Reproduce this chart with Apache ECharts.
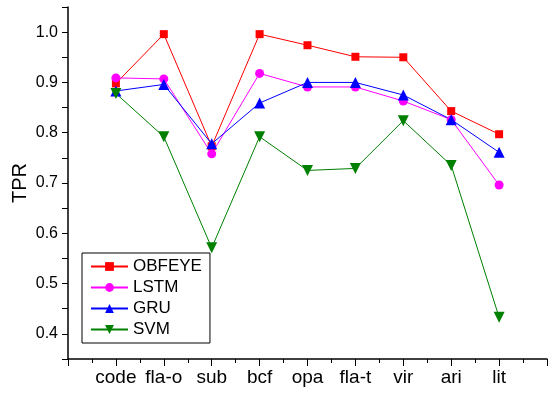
<!DOCTYPE html>
<html>
<head>
<meta charset="utf-8">
<script src="https://cdn.jsdelivr.net/npm/echarts@6/dist/echarts.min.js"></script>
<style>
html,body{margin:0;padding:0;background:#fff;}
#c{width:549px;height:393px;}
</style>
</head>
<body>
<div id="c"></div>
<script>
const categories = ['code', 'fla-o', 'sub', 'bcf', 'opa', 'fla-t', 'vir', 'ari', 'lit'];
const obfeye = [0.898, 0.996, 0.773, 0.996, 0.974, 0.951, 0.950, 0.843, 0.797];
const lstm   = [0.909, 0.907, 0.758, 0.918, 0.891, 0.891, 0.863, 0.826, 0.696];
const gru    = [0.883, 0.896, 0.778, 0.859, 0.900, 0.900, 0.875, 0.826, 0.761];
const svm    = [0.878, 0.792, 0.571, 0.792, 0.725, 0.729, 0.824, 0.735, 0.433];
const seriesNames = ['OBFEYE', 'LSTM', 'GRU', 'SVM'];

const FONT = 'Liberation Sans, Arial, Helvetica, sans-serif';
function pts(arr){ return arr.map((v,i)=>[i+1, v]); }

const chart = echarts.init(document.getElementById('c'), null, {renderer:'canvas'});
const mk = (name, data, color, symbol, size, rot) => ({
  name, type:'line', data: pts(data),
  symbol, symbolSize: size, symbolRotate: rot || 0,
  lineStyle:{color, width:1},
  itemStyle:{color},
  emphasis:{disabled:true},
  animation:false
});
chart.setOption({
  animation:false,
  backgroundColor:'#fff',
  textStyle:{fontFamily:FONT},
  grid:{left:68, right:2, top:7, bottom:34, outerBoundsMode:'none'},
  legend:{
    orient:'vertical', left:82, top:253,
    data: seriesNames,
    itemWidth:37, itemHeight:11, itemGap:4,
    padding:[5,8,5,8],
    borderColor:'#000', borderWidth:1, borderRadius:0,
    backgroundColor:'#fff',
    textStyle:{fontSize:17, color:'#000', fontFamily:FONT},
    inactiveColor:'#000'
  },
  xAxis:{
    type:'value', min:0, max:10, interval:1,
    axisLine:{show:true, onZero:false, lineStyle:{color:'#000', width:1.5}},
    axisTick:{show:true, length:7, lineStyle:{color:'#000', width:1}},
    minorTick:{show:true, splitNumber:2, length:4, lineStyle:{color:'#000', width:1}},
    splitLine:{show:false},
    axisLabel:{
      fontSize:19, color:'#000', margin:9, fontFamily:FONT,
      showMinLabel:true, showMaxLabel:true,
      formatter:(v)=>{ const i=Math.round(v)-1; return (i>=0 && i<categories.length) ? categories[i] : ''; }
    }
  },
  yAxis:{
    type:'value', min:0.35, max:1.05, interval:0.05,
    name:'TPR', nameLocation:'middle', nameGap:38, nameMoveOverlap:false,
    nameTextStyle:{fontSize:20, color:'#000', fontFamily:FONT},
    axisLine:{show:true, onZero:false, lineStyle:{color:'#000', width:1.5}},
    axisTick:{show:true, length:6, lineStyle:{color:'#000', width:1}},
    splitLine:{show:false},
    axisLabel:{
      fontSize:16, color:'#000', margin:10, fontFamily:FONT,
      showMinLabel:true, showMaxLabel:true,
      formatter:(v)=>{ const k=Math.round(v*100); return (k%10===0) ? (k/100).toFixed(1) : ''; }
    }
  },
  series:[
    mk('OBFEYE', obfeye, '#ff0000', 'rect', 8),
    mk('LSTM', lstm, '#ff00ff', 'circle', 9),
    mk('GRU', gru, '#0000ff', 'triangle', 11),
    mk('SVM', svm, '#008000', 'triangle', 11, 180)
  ]
});
</script>
</body>
</html>
